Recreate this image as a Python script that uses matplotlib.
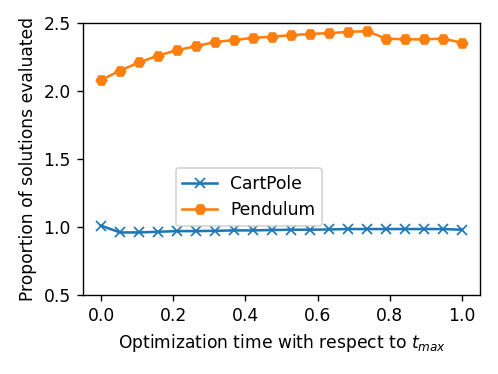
import numpy as np
import matplotlib
matplotlib.use('Agg')
import matplotlib.pyplot as plt

# optimization time fraction (20 evaluation points)
t = np.linspace(0, 1, 20)

cartpole = [1.01, 0.96, 0.96, 0.965, 0.97, 0.97, 0.972, 0.975, 0.975, 0.978,
            0.98, 0.98, 0.982, 0.985, 0.985, 0.985, 0.985, 0.985, 0.985, 0.98]
pendulum = [2.08, 2.15, 2.21, 2.26, 2.30, 2.33, 2.36, 2.375, 2.39, 2.40,
            2.41, 2.42, 2.425, 2.435, 2.44, 2.385, 2.38, 2.38, 2.385, 2.355]
yticks = [0.5, 1.0, 1.5, 2.0, 2.5]

# reference looks rendered at a higher dpi from a smaller figure
dpi = 123.6
fig, ax = plt.subplots(figsize=(498 / dpi, 374 / dpi), dpi=dpi)
fig.subplots_adjust(left=0.1667, right=0.964, top=0.9385, bottom=0.2112)

ax.plot(t, cartpole, marker='x', label='CartPole')
ax.plot(t, pendulum, marker='H', label='Pendulum')

ax.set_ylim(0.5, 2.5)
ax.set_yticks(yticks)
ax.set_xlabel('Optimization time with respect to $t_{max}$')
ax.set_ylabel('Proportion of solutions evaluated')
ax.legend(loc='center', bbox_to_anchor=(0.418, 0.36))

plt.savefig('out.png', dpi=dpi)
